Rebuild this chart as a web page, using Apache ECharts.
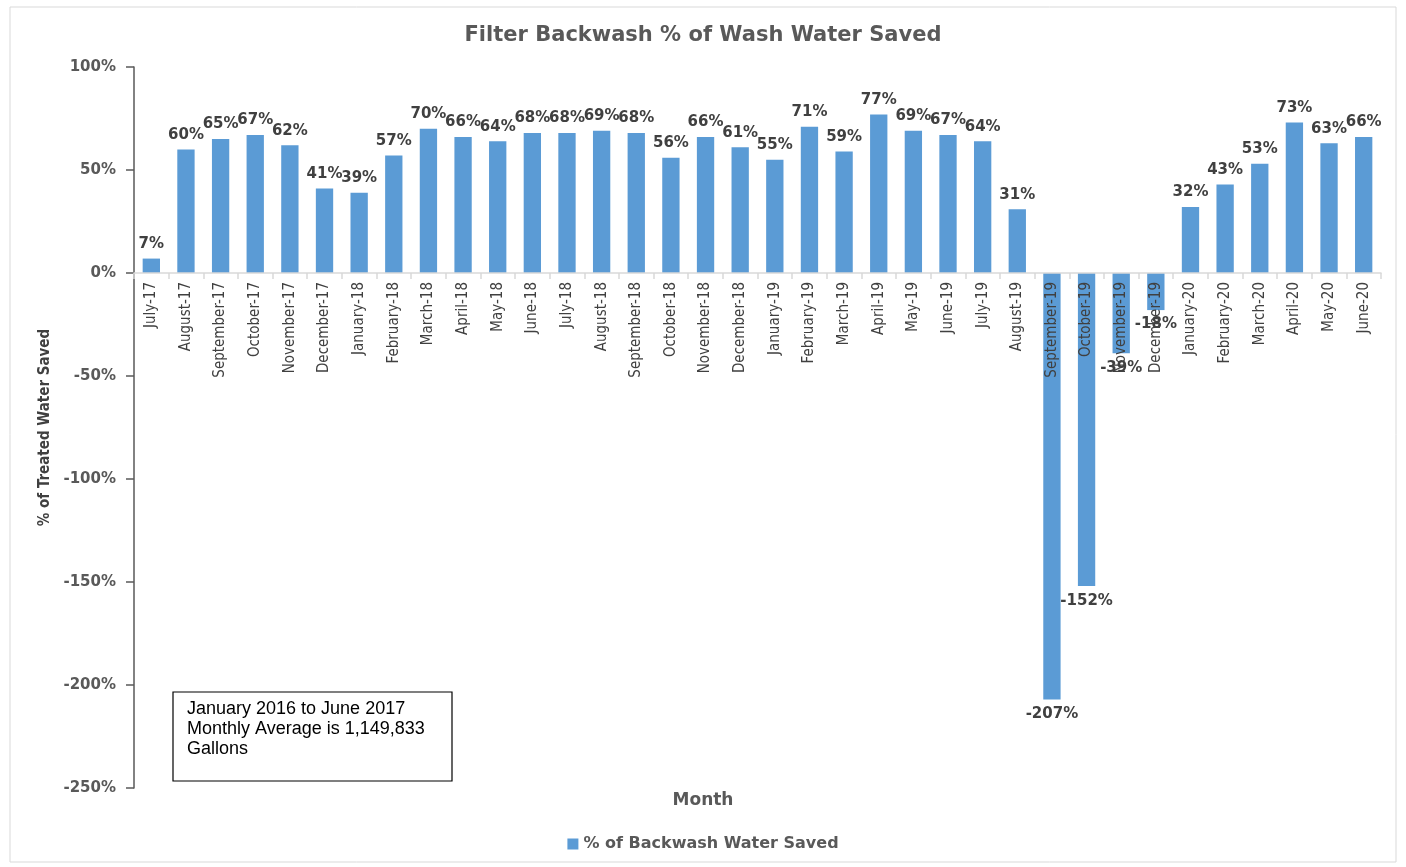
<!DOCTYPE html>
<html><head><meta charset="utf-8">
<script src="https://cdn.jsdelivr.net/npm/echarts@6/dist/echarts.min.js"></script>
<style>html,body{margin:0;padding:0;background:#fff}#c{width:1406px;height:867px}</style>
</head><body><div id="c"></div>
<script>
const categories = ["July-17","August-17","September-17","October-17","November-17","December-17","January-18","February-18","March-18","April-18","May-18","June-18","July-18","August-18","September-18","October-18","November-18","December-18","January-19","February-19","March-19","April-19","May-19","June-19","July-19","August-19","September-19","October-19","November-19","December-19","January-20","February-20","March-20","April-20","May-20","June-20"];
const saved = [7,60,65,67,62,41,39,57,70,66,64,68,68,69,68,56,66,61,55,71,59,77,69,67,64,31,-207,-152,-39,-18,32,43,53,73,63,66];
const yTicks = [-250,-200,-150,-100,-50,0,50,100];
const noteLines = ["January 2016 to June 2017","Monthly Average is 1,149,833","Gallons"];

const chart = echarts.init(document.getElementById('c'));
chart.setOption({
  animation:false,
  title:{text:'Filter Backwash % of Wash Water Saved',left:'center',top:20,
    textStyle:{fontFamily:'DejaVu Sans',fontSize:21,fontWeight:'bold',color:'#595959'}},
  grid:{left:134,right:25,top:67,bottom:79,containLabel:false,outerBoundsMode:'none'},
  legend:{bottom:10,left:'center',itemWidth:11,itemHeight:11,icon:'rect',
    textStyle:{fontFamily:'DejaVu Sans',fontSize:16,fontWeight:'bold',color:'#595959'}},
  xAxis:{type:'category',data:categories,position:'bottom',offset:0,z:3,
    axisLine:{onZero:false,lineStyle:{color:'#d9d9d9',width:1.5}},
    axisTick:{show:true,length:6,lineStyle:{color:'#d9d9d9',width:1.5}},
    axisLabel:{rotate:90,interval:0,hideOverlap:false,fontFamily:'DejaVu Sans Condensed',fontSize:15,color:'#404040',margin:9},
    splitLine:{show:false}},
  yAxis:{type:'value',min:-250,max:100,interval:50,
    name:'% of Treated Water Saved',nameLocation:'middle',nameGap:80,
    nameTextStyle:{fontFamily:'DejaVu Sans Condensed',fontSize:15,fontWeight:'bold',color:'#404040'},
    axisLine:{show:true,lineStyle:{color:'#595959',width:1.5}},
    axisTick:{show:true,length:8,lineStyle:{color:'#595959',width:1.5}},
    axisLabel:{formatter:v=>yTicks.includes(v)?v+'%':'',fontFamily:'DejaVu Sans',fontSize:15,fontWeight:'bold',color:'#595959',margin:18},
    splitLine:{show:false}},
  series:[{name:'% of Backwash Water Saved',type:'bar',barWidth:'50%',
    itemStyle:{color:'#5b9bd5'},
    data:saved.map(v=>({value:v,label:{position:v<0?'bottom':'top'}})),
    label:{show:true,formatter:p=>p.value+'%',fontFamily:'DejaVu Sans',fontSize:15,fontWeight:'bold',color:'#404040',distance:7}}],
  graphic:[
    {type:'rect',shape:{x:10,y:7,width:1386,height:855},style:{fill:'none',stroke:'#d9d9d9',lineWidth:1},silent:true,z:-1},
    {type:'rect',shape:{x:173,y:692,width:279,height:89},style:{fill:'#fff',stroke:'#000',lineWidth:1.2}},
    {type:'text',left:187,top:699,style:{text:noteLines.join('\n'),font:'18px "Liberation Sans"',fill:'#000',lineHeight:20}},
    {type:'text',left:'center',top:792,style:{text:'Month',font:'bold 17px "DejaVu Sans"',fill:'#595959'}}
  ]
});
const yZero = chart.convertToPixel({yAxisIndex:0}, 0);
const yMin = chart.convertToPixel({yAxisIndex:0}, -250);
chart.setOption({xAxis:{offset:-(yMin - yZero)}});
</script></body></html>
